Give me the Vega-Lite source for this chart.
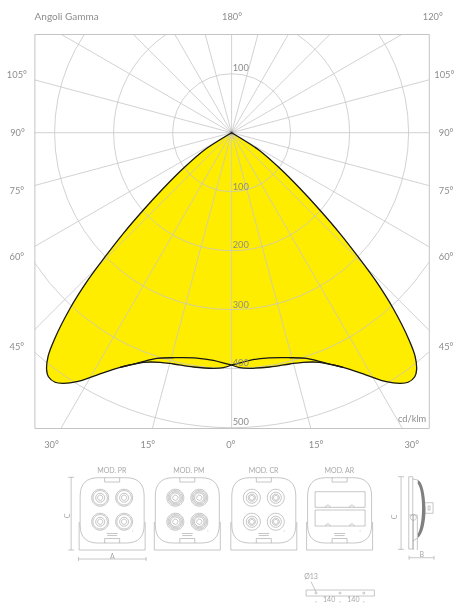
{
"$schema":"https://vega.github.io/schema/vega-lite/v6.json",
"width":394.4,"height":394,
"autosize":{"type":"none"},
"padding":{"left":34.4,"top":34,"right":25.2,"bottom":175},
"background":"white",
"config":{"view":{"stroke":"#c4c4c4","strokeWidth":1},"font":"Lato"},
"datasets":{
"outline":[
{"curve":"AL","i":0,"x":0,"y":0},{"curve":"AL","i":1,"x":-25.1,"y":-15.3},{"curve":"AL","i":2,"x":-47.8,"y":-30.5},{"curve":"AL","i":3,"x":-81.7,"y":-60.3},{"curve":"AL","i":4,"x":-115.6,"y":-94.2},{"curve":"AL","i":5,"x":-149.5,"y":-131},{"curve":"AL","i":6,"x":-183.4,"y":-170.5},{"curve":"AL","i":7,"x":-214.4,"y":-210.2},{"curve":"AL","i":8,"x":-245.4,"y":-252.5},{"curve":"AL","i":9,"x":-273.7,"y":-297.6},{"curve":"AL","i":10,"x":-300.8,"y":-351.2},{"curve":"AL","i":11,"x":-311.1,"y":-379},{"curve":"AL","i":12,"x":-313.6,"y":-402},{"curve":"AL","i":13,"x":-310.5,"y":-413.6},{"curve":"AL","i":14,"x":-299.2,"y":-423},{"curve":"AL","i":15,"x":-285.1,"y":-424.7},{"curve":"AL","i":16,"x":-262.4,"y":-422},{"curve":"AL","i":17,"x":-228.5,"y":-410.7},{"curve":"AL","i":18,"x":-189,"y":-397.6},{"curve":"AL","i":19,"x":-172,"y":-393.7},{"curve":"AL","i":20,"x":-149.5,"y":-389.2},{"curve":"AL","i":21,"x":-121.2,"y":-389.2},{"curve":"AL","i":22,"x":-98.6,"y":-392},{"curve":"AL","i":23,"x":-64.7,"y":-397.1},{"curve":"AL","i":24,"x":-30.8,"y":-399.3},{"curve":"AL","i":25,"x":-13.9,"y":-398.3},{"curve":"AL","i":26,"x":0,"y":-393.7},
{"curve":"AR","i":0,"x":0,"y":0},{"curve":"AR","i":1,"x":25.1,"y":-15.3},{"curve":"AR","i":2,"x":47.8,"y":-30.5},{"curve":"AR","i":3,"x":81.7,"y":-60.3},{"curve":"AR","i":4,"x":115.6,"y":-94.2},{"curve":"AR","i":5,"x":149.5,"y":-131},{"curve":"AR","i":6,"x":183.4,"y":-170.5},{"curve":"AR","i":7,"x":214.4,"y":-210.2},{"curve":"AR","i":8,"x":245.4,"y":-252.5},{"curve":"AR","i":9,"x":273.7,"y":-297.6},{"curve":"AR","i":10,"x":300.8,"y":-351.2},{"curve":"AR","i":11,"x":311.1,"y":-379},{"curve":"AR","i":12,"x":313.6,"y":-402},{"curve":"AR","i":13,"x":310.5,"y":-413.6},{"curve":"AR","i":14,"x":299.2,"y":-423},{"curve":"AR","i":15,"x":285.1,"y":-424.7},{"curve":"AR","i":16,"x":262.4,"y":-422},{"curve":"AR","i":17,"x":228.5,"y":-410.7},{"curve":"AR","i":18,"x":189,"y":-397.6},{"curve":"AR","i":19,"x":172,"y":-393.7},{"curve":"AR","i":20,"x":149.5,"y":-389.2},{"curve":"AR","i":21,"x":121.2,"y":-389.2},{"curve":"AR","i":22,"x":98.6,"y":-392},{"curve":"AR","i":23,"x":64.7,"y":-397.1},{"curve":"AR","i":24,"x":30.8,"y":-399.3},{"curve":"AR","i":25,"x":13.9,"y":-398.3},{"curve":"AR","i":26,"x":0,"y":-393.7},
{"curve":"BL","i":0,"x":-189,"y":-397.6},{"curve":"BL","i":1,"x":-172,"y":-393.7},{"curve":"BL","i":2,"x":-146.6,"y":-387},{"curve":"BL","i":3,"x":-126.8,"y":-382.5},{"curve":"BL","i":4,"x":-98.6,"y":-381.4},{"curve":"BL","i":5,"x":-59,"y":-381.9},{"curve":"BL","i":6,"x":-30.8,"y":-385.8},{"curve":"BL","i":7,"x":-8.1,"y":-392},{"curve":"BL","i":8,"x":0,"y":-393.7},
{"curve":"BR","i":0,"x":189,"y":-397.6},{"curve":"BR","i":1,"x":172,"y":-393.7},{"curve":"BR","i":2,"x":146.6,"y":-387},{"curve":"BR","i":3,"x":126.8,"y":-382.5},{"curve":"BR","i":4,"x":98.6,"y":-381.4},{"curve":"BR","i":5,"x":59,"y":-381.9},{"curve":"BR","i":6,"x":30.8,"y":-385.8},{"curve":"BR","i":7,"x":8.1,"y":-392},{"curve":"BR","i":8,"x":0,"y":-393.7}
],
"circles":[{"r":100,"x":0,"y":0},{"r":200,"x":0,"y":0},{"r":300,"x":0,"y":0},{"r":400,"x":0,"y":0},{"r":500,"x":0,"y":0}],
"rays":[
{"x":0,"y":0,"xe":0,"ye":800},{"x":0,"y":0,"xe":207.1,"ye":772.7},{"x":0,"y":0,"xe":400,"ye":692.8},{"x":0,"y":0,"xe":565.7,"ye":565.7},{"x":0,"y":0,"xe":692.8,"ye":400},{"x":0,"y":0,"xe":772.7,"ye":207.1},{"x":0,"y":0,"xe":800,"ye":0},{"x":0,"y":0,"xe":772.7,"ye":-207.1},{"x":0,"y":0,"xe":692.8,"ye":-400},{"x":0,"y":0,"xe":565.7,"ye":-565.7},{"x":0,"y":0,"xe":400,"ye":-692.8},{"x":0,"y":0,"xe":207.1,"ye":-772.7},{"x":0,"y":0,"xe":0,"ye":-800},{"x":0,"y":0,"xe":-207.1,"ye":-772.7},{"x":0,"y":0,"xe":-400,"ye":-692.8},{"x":0,"y":0,"xe":-565.7,"ye":-565.7},{"x":0,"y":0,"xe":-692.8,"ye":-400},{"x":0,"y":0,"xe":-772.7,"ye":-207.1},{"x":0,"y":0,"xe":-800,"ye":0},{"x":0,"y":0,"xe":-772.7,"ye":207.1},{"x":0,"y":0,"xe":-692.8,"ye":400},{"x":0,"y":0,"xe":-565.7,"ye":565.7},{"x":0,"y":0,"xe":-400,"ye":692.8},{"x":0,"y":0,"xe":-207.1,"ye":772.7}
],
"caption":[{"t":"Angoli Gamma","x":-279.7,"y":196.1}],
"labels":[
{"t":"180°","x":0.8,"y":196.1},{"t":"120°","x":341,"y":196.1},
{"t":"105°","x":-364,"y":97.3},{"t":"105°","x":360.5,"y":97.3},{"t":"90°","x":-363,"y":-0.5},{"t":"90°","x":363.6,"y":-0.5},{"t":"75°","x":-364,"y":-98},{"t":"75°","x":363.6,"y":-98},{"t":"60°","x":-364,"y":-210.7},{"t":"60°","x":363.6,"y":-210.7},{"t":"45°","x":-364,"y":-363.2},{"t":"45°","x":363.6,"y":-363.2},
{"t":"30°","x":-305.4,"y":-529.8},{"t":"15°","x":-142,"y":-529.8},{"t":"0°","x":-1.4,"y":-529.8},{"t":"15°","x":143.2,"y":-529.8},{"t":"30°","x":305.4,"y":-529.8},
{"t":"cd/klm","x":305.9,"y":-485.3},
{"t":"100","x":15.6,"y":109.2},{"t":"100","x":15.6,"y":-91.5},{"t":"200","x":15.6,"y":-190.3},{"t":"300","x":15.6,"y":-291.5},{"t":"400","x":15.6,"y":-390.8},{"t":"500","x":15.6,"y":-490.8}
],
"small":[
{"t":"MOD. PR","x":-203.1,"y":-573.4},{"t":"MOD. PM","x":-72.5,"y":-573.4},{"t":"MOD. CR","x":54.2,"y":-573.4},{"t":"MOD. AR","x":182.7,"y":-573.4},
{"t":"A","x":-202,"y":-718.6},{"t":"B","x":322.4,"y":-715.8},{"t":"Ø13","x":134.7,"y":-752.5},{"t":"140","x":165.3,"y":-791.2},{"t":"140","x":206.4,"y":-791.2}
],
"rotated":[{"t":"C","x":-276.6,"y":-649.7},{"t":"C","x":277.1,"y":-651.4}],
"parts":[
{"part":"module","x":-202.5,"y":-646.3},{"part":"module","x":-75.1,"y":-646.3},{"part":"module","x":54.6,"y":-646.3},{"part":"module","x":183.1,"y":-646.3},
{"part":"ar","x":183.1,"y":-646.3},{"part":"dims","x":-202.5,"y":-646.3},{"part":"side","x":311,"y":-646.3},{"part":"plate","x":183.9,"y":-780.2},
{"part":"lensPR","x":-222.8,"y":-618.7},{"part":"lensPR","x":-182.2,"y":-618.7},{"part":"lensPR","x":-222.8,"y":-659.4},{"part":"lensPR","x":-182.2,"y":-659.4},
{"part":"lensPM","x":-95.4,"y":-618.7},{"part":"lensPM","x":-54.8,"y":-618.7},{"part":"lensPM","x":-95.4,"y":-659.4},{"part":"lensPM","x":-54.8,"y":-659.4},
{"part":"lensCR","x":34.3,"y":-618.7},{"part":"lensCR","x":74.9,"y":-618.7},{"part":"lensCR","x":34.3,"y":-659.4},{"part":"lensCR","x":74.9,"y":-659.4}
],
"shell":[{"x":311,"y":-646.3}]
},
"encoding":{
"x":{"field":"x","type":"quantitative","axis":null,"scale":{"domain":[-334.3,334.3],"nice":false,"zero":false}},
"y":{"field":"y","type":"quantitative","axis":null,"scale":{"domain":[-500.5,167.3],"nice":false,"zero":false}}
},
"layer":[
{"data":{"name":"outline"},"transform":[{"filter":{"field":"curve","oneOf":["AL","AR"]}}],
 "mark":{"type":"line","interpolate":"catmull-rom","fill":"#FFED00","stroke":"#FFED00","strokeWidth":0.5,"clip":false},
 "encoding":{"detail":{"field":"curve"},"order":{"field":"i","type":"quantitative"}}},
{"data":{"name":"circles"},
 "mark":{"type":"point","shape":"circle","filled":false,"clip":true,"stroke":"#c6c6c6","strokeWidth":0.8,"opacity":1,"blend":"multiply"},
 "encoding":{"size":{"field":"r","type":"quantitative","legend":null,"scale":{"type":"pow","exponent":2,"domain":[0,500],"range":[0,348100],"nice":false}}}},
{"data":{"name":"rays"},
 "mark":{"type":"rule","clip":true,"stroke":"#c6c6c6","strokeWidth":0.8,"blend":"multiply"},
 "encoding":{"x2":{"field":"xe"},"y2":{"field":"ye"}}},
{"data":{"name":"outline"},
 "mark":{"type":"line","interpolate":"catmull-rom","stroke":"#161616","strokeWidth":1.3},
 "encoding":{"detail":{"field":"curve"},"order":{"field":"i","type":"quantitative"}}},
{"data":{"name":"caption"},
 "mark":{"type":"text","font":"Lato","fontSize":10,"fill":"#8c8c8c","align":"center","baseline":"middle"},
 "encoding":{"text":{"field":"t"}}},
{"data":{"name":"labels"},
 "mark":{"type":"text","font":"Lato","fontSize":9.3,"fill":"#8c8c8c","align":"center","baseline":"middle"},
 "encoding":{"text":{"field":"t"}}},
{"data":{"name":"small"},
 "mark":{"type":"text","font":"Lato","fontSize":7,"fill":"#a8a8a8","align":"center","baseline":"middle"},
 "encoding":{"text":{"field":"t"}}},
{"data":{"name":"rotated"},
 "mark":{"type":"text","font":"Lato","fontSize":7,"fill":"#a8a8a8","align":"center","baseline":"middle","angle":270},
 "encoding":{"text":{"field":"t"}}},
{"data":{"name":"shell"},
 "mark":{"type":"point","size":4,"filled":true,"opacity":1,"fill":"#808080","stroke":null,"shape":"M2.7,-34C8,-32 10,-18 10.5,-6C10.5,8 8,20 2.7,24L2.7,20C5,16 7,6 7,-6C7,-18 5,-28 2.7,-30Z"}},
{"data":{"name":"parts"},
 "mark":{"type":"point","size":4,"filled":false,"opacity":1,"stroke":"#a0a0a0","strokeWidth":0.6},
 "encoding":{"shape":{"field":"part","type":"nominal","legend":null,"scale":{
  "domain":["module","ar","dims","side","plate","lensPR","lensPM","lensCR"],
  "range":[
  "M-14,-36.3L14,-36.3C26,-36.3 32,-30 32,-18L32,11C32,23 26,29 14,29L-14,29C-26,29 -32,23 -32,11L-32,-18C-32,-30 -26,-36.3 -14,-36.3ZM-33,8L-33,36L33,36L33,8M-7.5,-36.3L-7.5,-32L7.5,-32L7.5,-36.3M-7.5,29L-7.5,24.5L7.5,24.5L7.5,29M-5.5,19.5L5.5,19.5M-5,21.5L5,21.5M20,17L21,17",
  "M-24.5,-22.3L25.5,-22.3L25.5,-6.7L-24.5,-6.7ZM-24.5,-4L25.5,-4L25.5,12L-24.5,12ZM-14,-6.7a2.2,2.2 0 0 1 4.4,0M10,-6.7a2.2,2.2 0 0 1 4.4,0M-14,12a2.2,2.2 0 0 1 4.4,0M10,12a2.2,2.2 0 0 1 4.4,0",
  "M-41,-36.7L-41,36M-44,-36.7L-38,-36.7M-44,36L-38,36M-33.7,45L34,45M-33.7,43L-33.7,47M34,43L34,47",
  "M-14,-37.3L-14,35.3M-17,-37.3L-11,-37.3M-17,35.3L-11,35.3M-6,43.7L19,43.7M-6,41.7L-6,45.7M19,41.7L19,45.7M-6.3,-37.3L-2.3,-37.3L-2.3,35L-6.3,35ZM-2.3,-35L2.7,-34M-2.3,27L2.7,24M-5.7,1L2.3,1L2.3,36M-1.7,1L-1.7,36M-4.7,3.3a3,3 0 1 0 6,0a3,3 0 1 0 -6,0M10,-11.3L18,-11.3L18,-0.7L10,-0.7M13,-8L15,-8L15,-4L13,-4Z",
  "M-34,-3L34.3,-3L34.3,3L-34,3ZM-25,0a1,1 0 1 0 2,0a1,1 0 1 0 -2,0M-1,0a1,1 0 1 0 2,0a1,1 0 1 0 -2,0M22.7,0a1,1 0 1 0 2,0a1,1 0 1 0 -2,0M-29,-11.3L-24,-1M-24,8L-24,9.5M0,8L0,9.5M23.7,8L23.7,9.5",
  "M-8.5,0a8.5,8.5 0 1 0 17,0a8.5,8.5 0 1 0 -17,0M-7.2,0a7.2,7.2 0 1 0 14.4,0a7.2,7.2 0 1 0 -14.4,0M-4.5,0a4.5,4.5 0 1 0 9,0a4.5,4.5 0 1 0 -9,0M-2.6,0a2.6,2.6 0 1 0 5.2,0a2.6,2.6 0 1 0 -5.2,0",
  "M-8.5,0a8.5,8.5 0 1 0 17,0a8.5,8.5 0 1 0 -17,0M-7.2,0a7.2,7.2 0 1 0 14.4,0a7.2,7.2 0 1 0 -14.4,0M-6,0a6,6 0 1 0 12,0a6,6 0 1 0 -12,0M-4.8,0a4.8,4.8 0 1 0 9.6,0a4.8,4.8 0 1 0 -9.6,0M-2.6,0a2.6,2.6 0 1 0 5.2,0a2.6,2.6 0 1 0 -5.2,0",
  "M-8.5,0a8.5,8.5 0 1 0 17,0a8.5,8.5 0 1 0 -17,0M-5.6,0a5.6,5.6 0 1 0 11.2,0a5.6,5.6 0 1 0 -11.2,0M-3.6,0a3.6,3.6 0 1 0 7.2,0a3.6,3.6 0 1 0 -7.2,0M-2.4,0a2.4,2.4 0 1 0 4.8,0a2.4,2.4 0 1 0 -4.8,0"
  ]}}}}
]
}
